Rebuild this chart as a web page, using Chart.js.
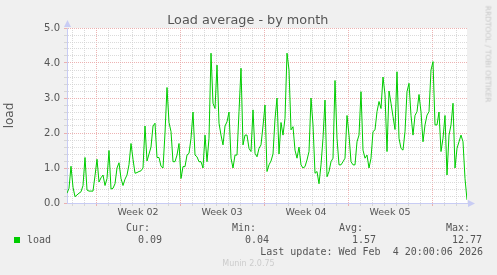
<!DOCTYPE html>
<html>
<head>
<meta charset="utf-8">
<script src="https://cdn.jsdelivr.net/npm/chart.js@4/dist/chart.umd.min.js"></script>
<style>
  html, body { margin: 0; padding: 0; background: #F0F0F0; }
  #wrap { position: relative; width: 497px; height: 275px; overflow: hidden; background: #F0F0F0; }
  #c { position: absolute; left: 0; top: 0; }
  #title { position: absolute; left: 247.8px; top: 12px; transform: translateX(-50%); white-space: nowrap; font-family: "DejaVu Sans", sans-serif; font-size: 12.8px; line-height: 15px; color: #555; }
  .t { position: absolute; white-space: pre; font-family: "DejaVu Sans Mono", monospace; font-size: 10px; line-height: 12px; color: #555; }
  .r { text-align: right; }
  #sq { position: absolute; left: 14px; top: 237px; width: 6px; height: 6px; background: #00CC00; }
  #munin { position: absolute; left: 0; width: 497px; top: 259px; text-align: center; font-family: "DejaVu Sans", sans-serif; font-size: 8px; line-height: 10px; color: #ccc; }
  #rrd { position: absolute; left: 488px; top: 54px; transform: translate(-50%, -50%) rotate(90deg); white-space: nowrap; font-family: "DejaVu Sans", sans-serif; font-size: 7.5px; line-height: 9px; color: #c8c8c8; }
</style>
</head>
<body>
<div id="wrap">
  <canvas id="c" width="497" height="275"></canvas>
  <div id="title"></div>
  <div id="sq"></div>
  <div class="t" id="lg" style="left:27px; top:234px;"></div>
  <div class="t r" id="hCur" style="right:347px; top:222px;"></div>
  <div class="t r" id="vCur" style="right:335px; top:234px;"></div>
  <div class="t r" id="hMin" style="right:241px; top:222px;"></div>
  <div class="t r" id="vMin" style="right:228px; top:234px;"></div>
  <div class="t r" id="hAvg" style="right:134px; top:222px;"></div>
  <div class="t r" id="vAvg" style="right:121px; top:234px;"></div>
  <div class="t r" id="hMax" style="right:27px; top:222px;"></div>
  <div class="t r" id="vMax" style="right:15px; top:234px;"></div>
  <div class="t r" id="upd" style="right:14px; top:246px;"></div>
  <div id="munin"></div>
  <div id="rrd"></div>
</div>
<script>
// ---- data (hours relative to Mon 5 Jan 2026 00:00) ----
const chartTitle = "Load average - by month";
const axisTitle = "load";
const seriesName = "load";
const sampleStartHour = -58;   // first sample
const sampleStepHours = 4;     // sample spacing
const loadValues = [
  0.28,0.42,1.05,0.45,0.18,0.23,0.28,0.32,0.5,1.3,
  0.37,0.34,0.34,0.34,0.78,1.25,0.6,0.72,0.8,0.5,
  0.7,1.5,0.4,0.42,0.55,1.0,1.15,0.7,0.5,0.68,
  0.8,1.1,1.7,1.25,0.85,0.87,0.9,0.92,1.0,2.2,
  1.2,1.4,1.6,2.2,2.28,1.3,1.3,1.05,1.0,2.0,
  3.3,2.3,2.04,1.18,1.18,1.37,1.7,0.7,1.04,1.04,
  1.37,1.42,1.85,2.6,1.37,1.32,1.18,1.18,1.0,1.94,
  1.18,1.85,4.28,2.85,2.7,3.94,2.28,1.94,1.66,2.2,
  2.32,2.6,1.28,1.0,1.37,1.37,2.61,3.85,1.66,1.94,
  1.94,1.56,1.47,2.66,1.42,1.32,1.56,1.66,2.2,2.8,
  0.9,1.09,1.2,1.4,2.4,3.0,1.4,2.3,1.94,2.42,
  4.28,3.8,2.09,2.18,1.51,1.28,1.6,1.09,1.0,1.04,
  1.23,1.47,3.0,2.23,0.85,0.9,0.55,1.09,1.85,2.94,
  0.75,0.9,1.18,1.28,3.5,1.85,1.09,1.09,1.18,1.28,
  2.5,1.94,1.18,1.09,1.09,1.75,1.94,3.18,1.51,1.28,
  1.37,1.0,1.28,2.04,2.09,2.61,2.9,2.7,3.6,3.1,
  1.47,3.2,2.85,2.47,2.1,3.75,1.85,1.56,1.51,2.04,
  3.18,3.42,2.5,1.94,2.5,2.61,3.1,2.6,1.75,2.23,
  2.51,2.61,3.8,4.04,2.23,2.23,2.6,1.47,1.85,2.5,
  0.8,1.94,2.23,2.85,1.0,1.56,1.75,1.94,1.75,0.7,
  0.09
];
const xMinHour = -58;
const xMaxHour = 742;
const weekLabels = ["Week 02", "Week 03", "Week 04", "Week 05"];
const weekCenterHours = [84, 252, 420, 588];
const yMin = 0, yMax = 5, yMinorStep = 0.2;
const statHeaders = ["Cur:", "Min:", "Avg:", "Max:"];
const statValues = ["0.09", "0.04", "1.57", "12.77"];
const lastUpdate = "Last update: Wed Feb  4 20:00:06 2026";
const footer = "Munin 2.0.75";
const sideText = "RRDTOOL / TOBI OETIKER";

// ---- texts ----
document.getElementById('title').textContent = chartTitle;
document.getElementById('lg').textContent = seriesName;
["hCur","hMin","hAvg","hMax"].forEach((id,i)=>document.getElementById(id).textContent = statHeaders[i]);
["vCur","vMin","vAvg","vMax"].forEach((id,i)=>document.getElementById(id).textContent = statValues[i]);
document.getElementById('upd').textContent = lastUpdate;
document.getElementById('munin').textContent = footer;
document.getElementById('rrd').textContent = sideText;

const points = loadValues.map((v, i) => ({x: sampleStartHour + i * sampleStepHours, y: v}));

const MAJOR = 'rgba(232,160,160,0.8)';
const MINOR = 'rgba(205,205,205,0.75)';
const AXIS = '#C8CCF4';

const decor = {
  id: 'decor',
  beforeDraw(chart) {
    const {ctx, chartArea: a} = chart;
    ctx.save();
    ctx.fillStyle = '#FFFFFF';
    ctx.fillRect(a.left, a.top, a.right - a.left, a.bottom - a.top);
    ctx.restore();
  },
  afterDraw(chart) {
    const {ctx, chartArea: a} = chart;
    ctx.save();
    ctx.fillStyle = AXIS;
    ctx.strokeStyle = AXIS;
    ctx.lineWidth = 1;
    ctx.beginPath();
    ctx.moveTo(a.right, a.bottom + 0.5);
    ctx.lineTo(a.right + 2, a.bottom + 0.5);
    ctx.stroke();
    ctx.beginPath();
    ctx.moveTo(a.right + 1, a.bottom - 3);
    ctx.lineTo(a.right + 8, a.bottom + 0.5);
    ctx.lineTo(a.right + 1, a.bottom + 4);
    ctx.closePath();
    ctx.fill();
    ctx.beginPath();
    ctx.moveTo(a.left - 3, a.top - 1);
    ctx.lineTo(a.left + 0.5, a.top - 8);
    ctx.lineTo(a.left + 4, a.top - 1);
    ctx.closePath();
    ctx.fill();
    ctx.restore();
  }
};

new Chart(document.getElementById('c'), {
  type: 'line',
  data: {
    datasets: [{
      label: seriesName,
      data: points,
      borderColor: '#00CC00',
      borderWidth: 1,
      pointRadius: 0,
      tension: 0,
      fill: false
    }]
  },
  options: {
    responsive: false,
    animation: false,
    events: [],
    layout: { padding: { left: 0, right: 30, top: 28, bottom: 52 } },
    plugins: {
      legend: { display: false },
      tooltip: { enabled: false },
      title: { display: false }
    },
    scales: {
      x: {
        type: 'linear',
        min: xMinHour,
        max: xMaxHour,
        afterFit(s) { s.height = 20; },
        afterBuildTicks(s) {
          const t = [];
          for (let h = Math.ceil(xMinHour / 12) * 12; h <= xMaxHour; h += 12) t.push({value: h});
          s.ticks = t;
        },
        ticks: {
          autoSkip: false,
          maxRotation: 0,
          padding: 1,
          color: '#555',
          font: { family: 'DejaVu Sans', size: 9.5 },
          callback(v) {
            const i = weekCenterHours.indexOf(v);
            return i >= 0 ? weekLabels[i] : '';
          }
        },
        grid: {
          lineWidth: 1,
          tickLength: 3,
          color(ctx) {
            const v = ctx.tick ? ctx.tick.value : 0;
            if (((v % 168) + 168) % 168 === 0) return MAJOR;
            if (((v % 24) + 24) % 24 === 0) return MINOR;
            return 'rgba(0,0,0,0)';
          }
        },
        border: { display: true, color: AXIS, width: 1, dash: [1, 1] }
      },
      y: {
        min: yMin,
        max: yMax,
        afterFit(s) { s.width = 67; },
        ticks: {
          stepSize: yMinorStep,
          autoSkip: false,
          padding: 4,
          color: '#555',
          font: { family: 'DejaVu Sans', size: 10 },
          callback(v) {
            return Math.abs(v - Math.round(v)) < 1e-6 ? Number(v).toFixed(1) : '';
          }
        },
        grid: {
          lineWidth: 1,
          tickLength: 3,
          color(ctx) {
            const v = ctx.tick ? ctx.tick.value : 0;
            return Math.abs(v - Math.round(v)) < 1e-6 ? MAJOR : MINOR;
          }
        },
        border: { display: true, color: AXIS, width: 1, dash: [1, 1] },
        title: {
          display: true,
          text: axisTitle,
          color: '#555',
          font: { family: 'DejaVu Sans', size: 12 },
          padding: { top: 3, bottom: 0 }
        }
      }
    }
  },
  plugins: [decor]
});
</script>
</body>
</html>
